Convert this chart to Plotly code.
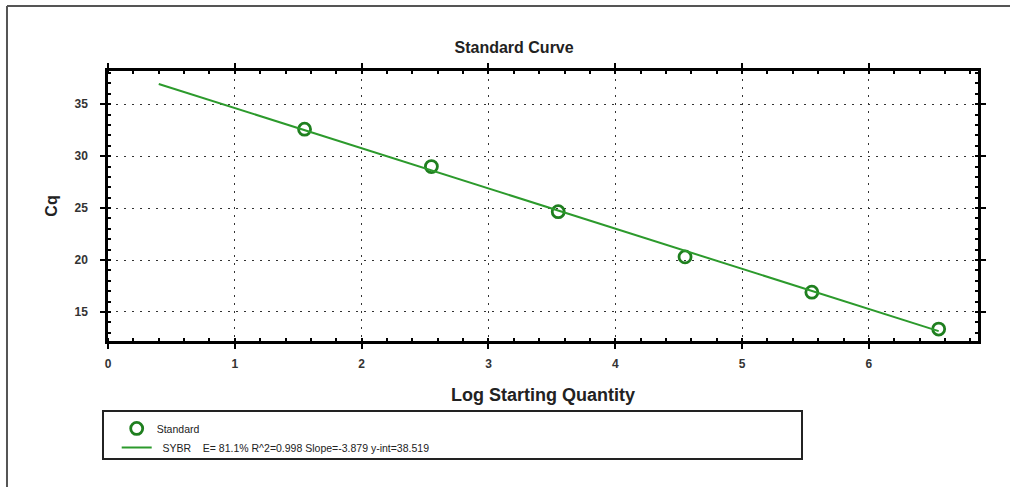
import plotly.graph_objects as go

# ---- data ----
log_qty = [1.55, 2.55, 3.55, 4.55, 5.55, 6.55]
cq = [32.6, 29.0, 24.65, 20.3, 16.9, 13.35]
fit_x = [0.4, 6.55]
fit_y = [36.95, 13.15]
x_ticks = [0, 1, 2, 3, 4, 5, 6]
y_ticks = [15, 20, 25, 30, 35]
std_name = "Standard"
fit_name = "\u00a0\u00a0SYBR\u00a0\u00a0\u00a0\u00a0E=\u00a081.1%\u00a0R^2=0.998\u00a0Slope=-3.879\u00a0y-int=38.519"

GREEN = "#2c9a2c"
DKGREEN = "#1f7f1f"
FONT = "Liberation Sans, Arial, sans-serif"

fig = go.Figure()
fig.add_trace(go.Scatter(
    x=log_qty, y=cq, mode="markers", name=std_name,
    marker=dict(symbol="circle-open", size=12, color=DKGREEN, line=dict(width=2.8, color=DKGREEN)),
))
fig.add_trace(go.Scatter(
    x=fit_x, y=fit_y, mode="lines", name=fit_name,
    line=dict(color=GREEN, width=2),
))

axis_common = dict(
    showline=True, linecolor="black", linewidth=2.5, mirror="allticks",
    ticks="outside", ticklen=5, tickwidth=2, tickcolor="black",
    showgrid=True, gridcolor="#333333", gridwidth=1.2, griddash="2px,6px",
    zeroline=False,
    tickfont=dict(family=FONT, size=12, color="#333333", weight="bold"),
)

fig.update_xaxes(
    range=[0, 6.86], tickvals=x_ticks, ticklabelstandoff=5,
    minor=dict(dtick=0.2, ticks="inside", ticklen=3, tickwidth=2, tickcolor="black", showgrid=False),
    title=dict(text="Log Starting Quantity", font=dict(family=FONT, size=18, color="#222222", weight="bold"), standoff=19),
    **axis_common,
)
fig.update_yaxes(
    range=[12.2, 38.2], tickvals=y_ticks, ticklabelstandoff=10,
    minor=dict(dtick=1, ticks="inside", ticklen=3, tickwidth=2, tickcolor="black", showgrid=False),
    title=dict(text="Cq", font=dict(family=FONT, size=16, color="#222222", weight="bold"), standoff=13),
    **axis_common,
)

# legend box and outer frame (left and top edges only)
fig.add_shape(type="rect", xref="paper", yref="paper",
              x0=-0.00575, x1=0.7977, y0=-0.437, y1=-0.259,
              line=dict(color="#222222", width=2), fillcolor="rgba(0,0,0,0)")
fig.add_shape(type="line", xref="paper", yref="paper",
              x0=-0.1161, x1=-0.1161, y0=-0.6, y1=1.2407,
              line=dict(color="#555555", width=2))
fig.add_shape(type="line", xref="paper", yref="paper",
              x0=-0.1161, x1=1.1, y0=1.2407, y1=1.2407,
              line=dict(color="#555555", width=2))

fig.update_layout(
    width=1010, height=487,
    margin=dict(l=108, r=32, t=71, b=146),
    paper_bgcolor="white", plot_bgcolor="white",
    title=dict(text="Standard Curve", x=0.509, xanchor="center", y=0.9035, yanchor="middle",
               font=dict(family=FONT, size=16, color="#222222", weight="bold")),
    showlegend=True,
    legend=dict(x=0.01, xanchor="left", y=-0.27, yanchor="top",
                bgcolor="rgba(0,0,0,0)", borderwidth=0,
                font=dict(family=FONT, size=10.5, color="#222222"),
                tracegroupgap=0, itemclick=False),
)

fig.write_html("out.html", config={"displayModeBar": False},
               post_script="document.body.style.margin='0';document.body.style.overflow='hidden';")
